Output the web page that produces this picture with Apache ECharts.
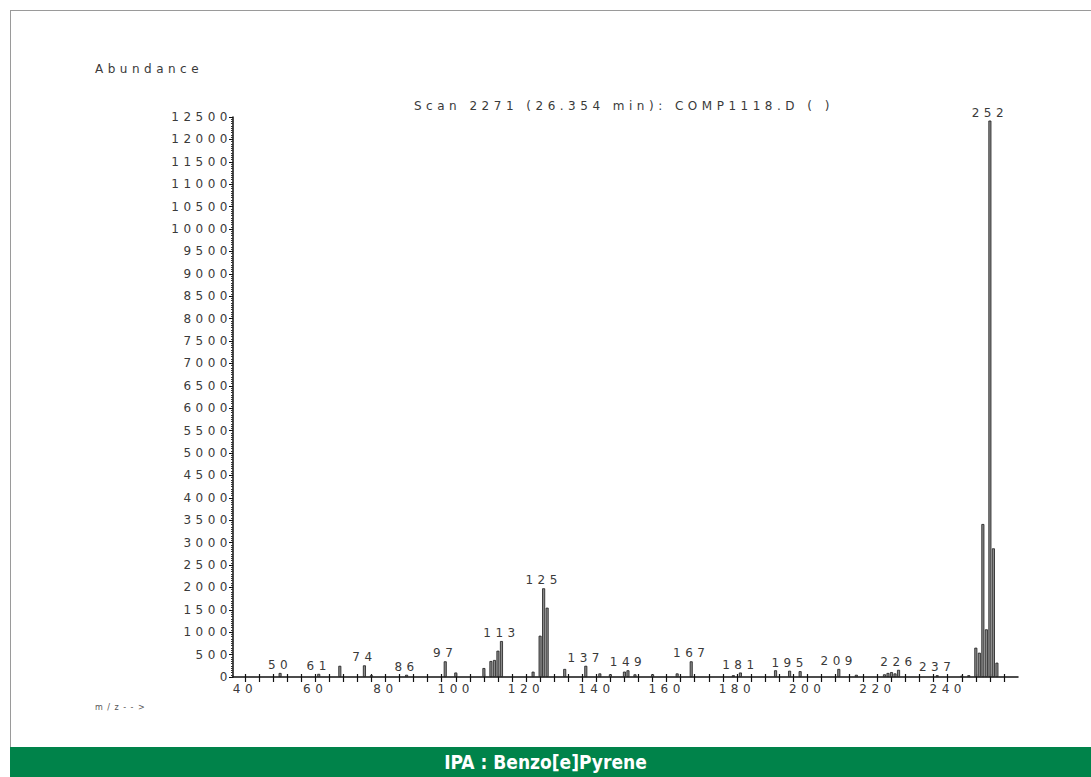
<!DOCTYPE html>
<html>
<head>
<meta charset="utf-8">
<script src="https://cdn.jsdelivr.net/npm/echarts@6/dist/echarts.min.js"></script>
<style>
  html, body { margin: 0; padding: 0; background: #fff; }
  #frame { position: absolute; left: 10px; top: 10px; width: 1081px; height: 737px;
           border-left: 1px solid #9a9a9a; border-top: 1px solid #9a9a9a; box-sizing: border-box; }
  #chart { position: absolute; left: 0; top: 0; width: 1091px; height: 777px; }
  #chart svg text { letter-spacing: 4.5px; }
  #band { position: absolute; left: 10px; top: 747px; width: 1081px; height: 30px; background: #00834a;
          color: #fff; font-family: 'Liberation Sans Narrow', 'DejaVu Sans Condensed', sans-serif;
          font-weight: bold; font-size: 19px; line-height: 30px; text-align: center; text-indent: -10px; z-index: 2; }
</style>
</head>
<body>
<div id="frame"></div>
<div id="chart"></div>
<div id="band">IPA : Benzo[e]Pyrene</div>
<script>
// m/z values of the peaks
const mz = [50, 61, 67, 74, 76, 86, 97, 100, 108, 110, 111, 112, 113, 122, 124, 125, 126,
            131, 137, 141, 144, 148, 149, 151, 156, 163, 167, 179, 181, 191, 195, 198, 209,
            214, 222, 223, 224, 225, 226, 237, 244, 246, 248, 249, 250, 251, 252, 253, 254];
// abundances
const abundance = [90, 70, 250, 260, 40, 50, 350, 100, 200, 357, 380, 587, 803, 119, 922, 1980, 1547,
                   180, 250, 80, 60, 120, 150, 60, 60, 80, 350, 40, 100, 150, 140, 130, 180,
                   50, 60, 90, 110, 80, 160, 40, 30, 40, 654, 542, 3415, 1064, 12420, 2872, 320];
// peaks that carry an m/z label
const labelledPeaks = [50, 61, 74, 86, 97, 113, 125, 137, 149, 167, 181, 195, 209, 226, 237, 252];
// axis tick labels
const xTickLabels = [40, 60, 80, 100, 120, 140, 160, 180, 200, 220, 240];
const xMinorTicks = [];
for (let v = 40; v <= 256; v += 4) xMinorTicks.push(v);

const titleText = 'Scan 2271 (26.354 min): COMP1118.D ( )';
const yName = 'Abundance';
const xName = 'm/z-->';

const FONT = "'DejaVu Sans', sans-serif";
const TXT = '#3a3a3a';

const chart = echarts.init(document.getElementById('chart'), null, { renderer: 'svg', width: 1091, height: 777 });

const seriesData = mz.map((m, i) => [m, abundance[i]]);

chart.setOption({
  animation: false,
  backgroundColor: 'transparent',
  grid: { left: 233, right: 73, top: 117, bottom: 100, containLabel: false },
  xAxis: [{
    type: 'value', min: 36.6, max: 260,
    axisLine: { show: true, lineStyle: { color: '#111', width: 1.5 } },
    axisTick: { show: true, customValues: xMinorTicks, length: 5, lineStyle: { color: '#111', width: 1.2 } },
    axisLabel: { show: true, customValues: xTickLabels, margin: 6, color: TXT, fontFamily: FONT, fontSize: 12,
                 formatter: v => String(v) },
    splitLine: { show: false }
  }, {
    type: 'value', min: 36.6, max: 260, gridIndex: 0, position: 'bottom',
    axisLine: { show: false },
    axisTick: { show: true, inside: true, customValues: xMinorTicks, length: 3, lineStyle: { color: '#111', width: 1.2 } },
    axisLabel: { show: false },
    splitLine: { show: false }
  }],
  yAxis: {
    type: 'value', min: 0, max: 12500, interval: 500,
    axisLine: { show: true, lineStyle: { color: '#111', width: 1.5 } },
    axisTick: { show: true, length: 4, lineStyle: { color: '#111' } },
    minorTick: { show: true, splitNumber: 10, length: 2, lineStyle: { color: '#333' } },
    axisLabel: { margin: 1, color: TXT, fontFamily: FONT, fontSize: 12, formatter: v => String(v) },
    splitLine: { show: false }
  },
  graphic: [
    { type: 'text', left: 95, top: 63, style: { text: yName, fill: TXT, font: "12px 'DejaVu Sans', sans-serif" } },
    { type: 'text', x: 624, y: 106, style: { text: titleText, fill: TXT, font: "12px 'DejaVu Sans', sans-serif", textAlign: 'center', textVerticalAlign: 'middle' } },
    { type: 'text', left: 95, top: 703, style: { text: xName, fill: '#555', font: "8px 'DejaVu Sans', sans-serif" } }
  ],
  series: [{
    type: 'bar',
    xAxisIndex: 0,
    barWidth: 3,
    data: seriesData,
    itemStyle: { color: '#8a8a8a', borderColor: '#1a1a1a', borderWidth: 0.8 },
    label: {
      show: true, position: 'top', distance: 2, color: TXT, fontFamily: FONT, fontSize: 12,
      formatter: p => labelledPeaks.includes(p.value[0]) ? String(p.value[0]) : ''
    }
  }]
});
</script>
</body>
</html>
